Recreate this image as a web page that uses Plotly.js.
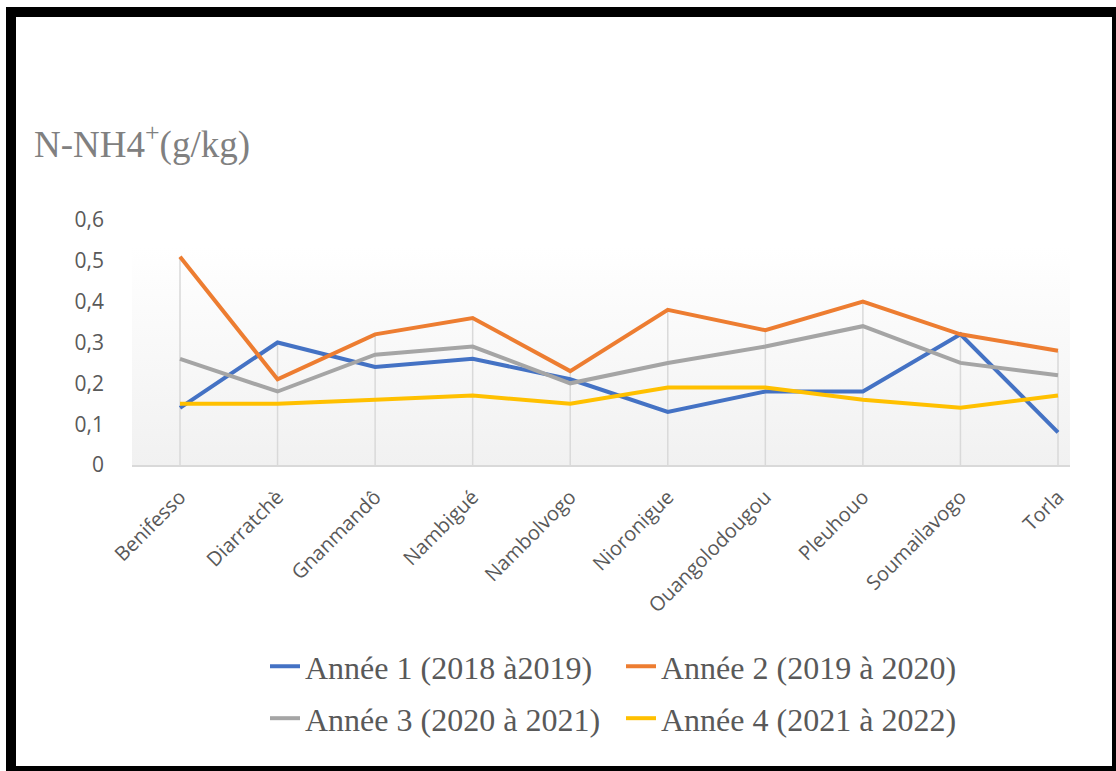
<!DOCTYPE html>
<html>
<head>
<meta charset="utf-8">
<script src="https://cdn.plot.ly/plotly-3.0.1.min.js"></script>
<style>
  html, body { margin: 0; padding: 0; background: #ffffff; }
  #wrap { position: relative; width: 1116px; height: 771px; overflow: hidden; }
  #chart { width: 1116px; height: 771px; }
  #frame { position: absolute; left: 6px; top: 7px; width: 1110px; height: 764px; box-sizing: border-box;
           border-left: 10px solid #000; border-top: 10px solid #000; border-right: 4px solid #000; border-bottom: 5px solid #000;
           pointer-events: none; }
</style>
</head>
<body>
<div id="wrap">
  <div id="chart"></div>
  <div id="frame"></div>
</div>
<script>
const categories = ["Benifesso", "Diarratchè", "Gnanmandô", "Nambigué", "Nambolvogo",
                    "Nioronigue", "Ouangolodougou", "Pleuhouo", "Soumailavogo", "Torla"];
const annee1 = [0.14, 0.30, 0.24, 0.26, 0.21, 0.13, 0.18, 0.18, 0.32, 0.08];
const annee2 = [0.51, 0.21, 0.32, 0.36, 0.23, 0.38, 0.33, 0.40, 0.32, 0.28];
const annee3 = [0.26, 0.18, 0.27, 0.29, 0.20, 0.25, 0.29, 0.34, 0.25, 0.22];
const annee4 = [0.15, 0.15, 0.16, 0.17, 0.15, 0.19, 0.19, 0.16, 0.14, 0.17];
const seriesNames = ["Année 1 (2018 à2019)", "Année 2 (2019 à 2020)", "Année 3 (2020 à 2021)", "Année 4 (2021 à 2022)"];
const yTitle = "N-NH4<sup>+</sup>(g/kg)";

const seriesValues = [annee1, annee2, annee3, annee4];
const colors = ["#4472C4", "#ED7D31", "#A5A5A5", "#FFC000"];
const legendOf = ["legend", "legend", "legend2", "legend2"];

// drop lines: from axis to the highest point of each category
const dropX = [], dropY = [];
categories.forEach((c, i) => {
  const m = Math.max(...seriesValues.map(s => s[i]));
  dropX.push(c, c, null);
  dropY.push(0, m, null);
});

const traces = [{
  x: dropX, y: dropY, type: "scatter", mode: "lines",
  line: { color: "#d9d9d9", width: 1.5 }, showlegend: false, hoverinfo: "skip"
}];
seriesValues.forEach((vals, k) => {
  traces.push({
    x: categories, y: vals, type: "scatter", mode: "lines", name: seriesNames[k],
    line: { color: colors[k], width: 4 }, legend: legendOf[k]
  });
});

const gradSvg = "<svg xmlns='http://www.w3.org/2000/svg' width='100' height='100' preserveAspectRatio='none'>" +
  "<defs><linearGradient id='g' x1='0' y1='0' x2='0' y2='1'><stop offset='0' stop-color='#ffffff'/>" +
  "<stop offset='1' stop-color='#f1f1f1'/></linearGradient></defs><rect width='100' height='100' fill='url(#g)'/></svg>";

const legendFont = { family: "Liberation Serif, Times New Roman, serif", size: 32, color: "#595959" };
const legendBase = {
  orientation: "h", x: 0.1418, xanchor: "left", yanchor: "top",
  entrywidth: 311, entrywidthmode: "pixels",
  font: legendFont, bgcolor: "rgba(0,0,0,0)", itemwidth: 30
};

const layout = {
  width: 1116, height: 771,
  margin: { l: 132, r: 46, t: 220, b: 306 },
  paper_bgcolor: "#ffffff", plot_bgcolor: "rgba(0,0,0,0)",
  separators: ", ",
  font: { family: "Open Sans, sans-serif", color: "#595959" },
  images: [{
    source: "data:image/svg+xml;charset=utf-8," + encodeURIComponent(gradSvg),
    xref: "paper", yref: "paper", x: 0, y: 0.89, sizex: 1, sizey: 0.89,
    sizing: "stretch", xanchor: "left", yanchor: "top", layer: "below"
  }],
  xaxis: {
    type: "category", range: [-0.492, 9.123],
    showgrid: false, zeroline: false, showline: true, linecolor: "#d9d9d9", linewidth: 1.5,
    ticks: "", tickangle: -45, tickfont: { size: 20, color: "#595959", family: "Open Sans, sans-serif" },
    ticklabelstandoff: 11
  },
  yaxis: {
    range: [0, 0.6], dtick: 0.1, tick0: 0,
    showgrid: false, zeroline: false, showline: false, ticks: "",
    tickfont: { size: 21, color: "#595959", family: "Open Sans, sans-serif" },
    ticklabelstandoff: 27
  },
  showlegend: true,
  legend: Object.assign({}, legendBase, { y: -0.71 }),
  legend2: Object.assign({}, legendBase, { y: -0.922 }),
  annotations: [{
    text: yTitle, xref: "paper", yref: "paper", x: -0.1066, y: 1.318,
    xanchor: "left", yanchor: "middle", showarrow: false,
    font: { family: "Liberation Serif, Times New Roman, serif", size: 37, color: "#808080" }
  }]
};

Plotly.newPlot("chart", traces, layout, { displayModeBar: false, staticPlot: true });
</script>
</body>
</html>
